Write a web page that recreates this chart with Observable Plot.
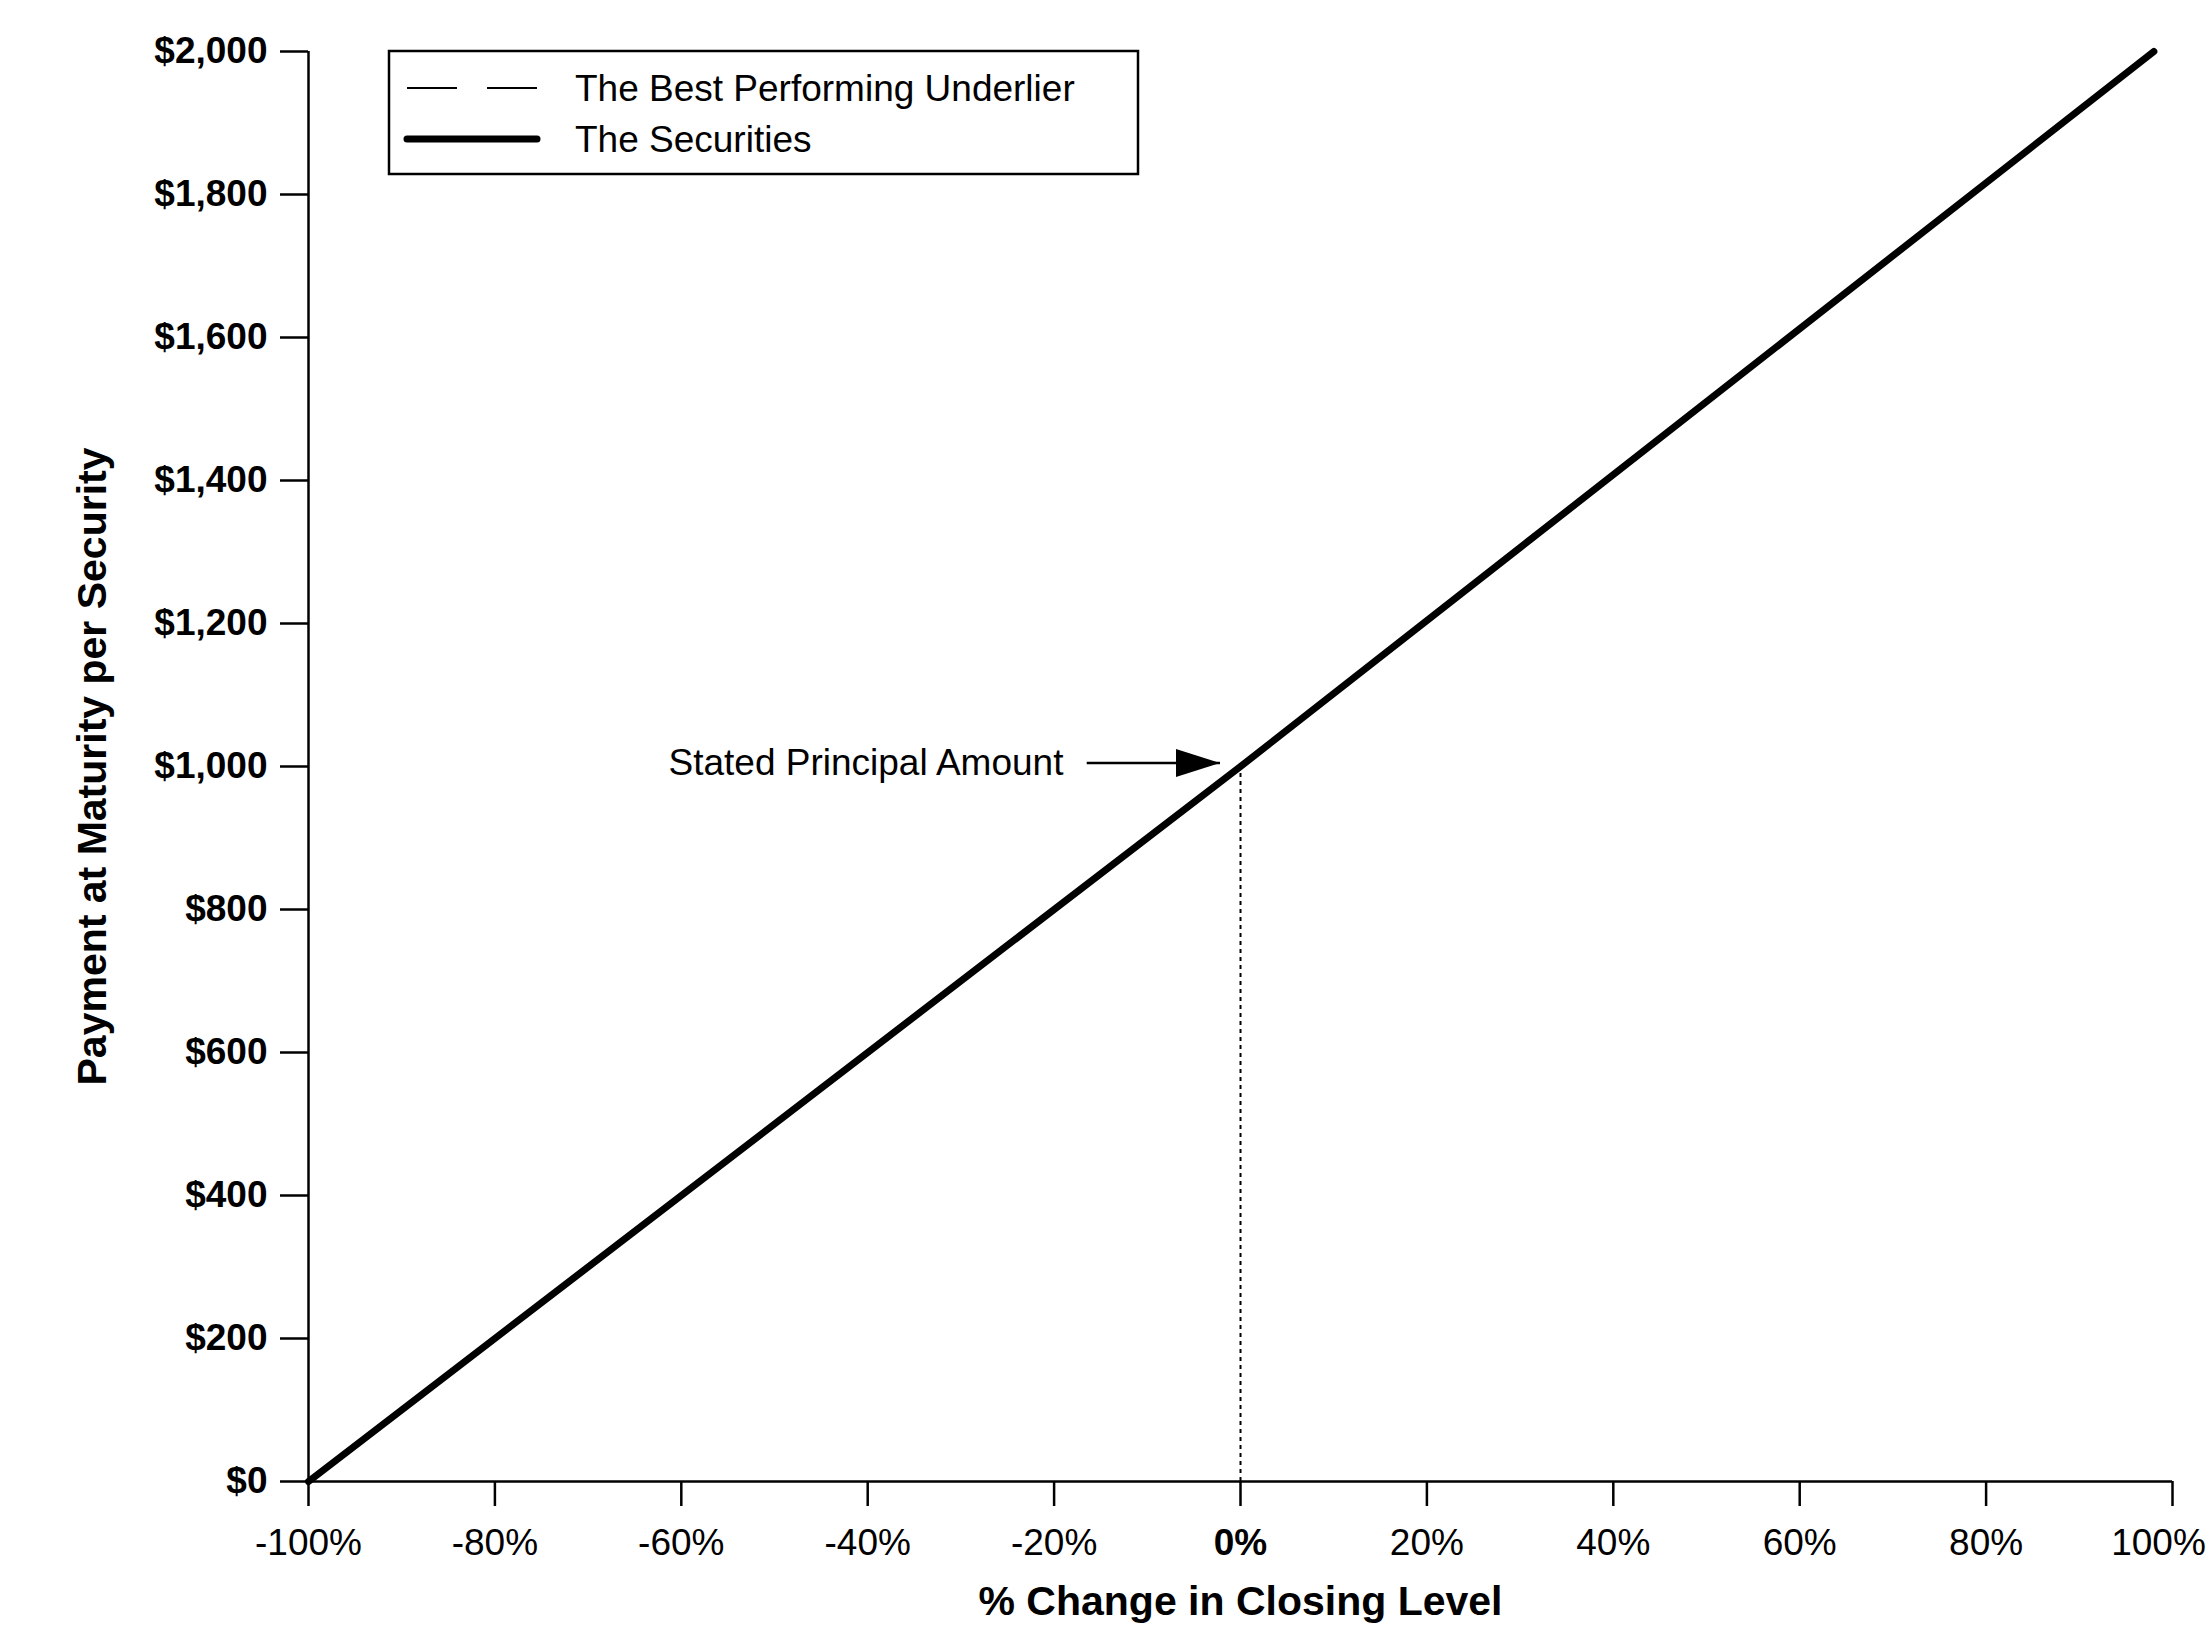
<!DOCTYPE html>
<html>
<head>
<meta charset="utf-8">
<script src="https://cdn.jsdelivr.net/npm/d3@7"></script>
<script src="https://cdn.jsdelivr.net/npm/@observablehq/plot@0.6"></script>
<style>
  html, body { margin: 0; padding: 0; background: #fff; }
  #chart { position: relative; width: 2207px; height: 1650px; }
</style>
</head>
<body>
<div id="chart"></div>
<script>
// ---- data ----
const xTicks = [-100, -80, -60, -40, -20, 0, 20, 40, 60, 80, 100];
const yTicks = [0, 200, 400, 600, 800, 1000, 1200, 1400, 1600, 1800, 2000];

const changePct = [-100, 0, 98];          // % change in closing level
const securitiesPayment = [0, 1000, 2000]; // payment per security ($)
const underlierPayment = [0, 1000, 2000];  // best performing underlier ($)

const seriesNames = ["The Best Performing Underlier", "The Securities"];

const principalPct = [0];
const principalValue = [1000];
const annotationLabel = ["Stated Principal Amount"];
const annotationLabelPct = [-19];
const arrowStartPct = [-16.5];
const arrowTipPct = [-2.2];
const arrowValue = [1005];

const xTitle = "% Change in Closing Level";
const yTitle = "Payment at Maturity per Security";

// ---- tables built from arrays ----
const securities = changePct.map((x, i) => ({x, y: securitiesPayment[i]}));
const underlier = changePct.map((x, i) => ({x, y: underlierPayment[i]}));
const principal = principalPct.map((x, i) => ({x, y: principalValue[i]}));
const annotation = annotationLabel.map((t, i) => ({
  text: t, tx: annotationLabelPct[i], x1: arrowStartPct[i], x2: arrowTipPct[i], y: arrowValue[i]
}));
const lastTick = xTicks.filter(d => d === 100).map(x => ({x, y: 0}));

const arrowHead = {
  draw(ctx) { ctx.moveTo(0, 0); ctx.lineTo(-44, -14); ctx.lineTo(-44, 14); ctx.closePath(); }
};

const font = "'Liberation Sans', Arial, Helvetica, sans-serif";
const pct = d => d + "%";
const xAxisCommon = {tickSize: 25, tickPadding: 22, fontSize: 37, strokeWidth: 2.5, tickFormat: pct, label: null};

const svg = Plot.plot({
  width: 2207,
  height: 1650,
  marginLeft: 308,
  marginRight: 35,
  marginTop: 51,
  marginBottom: 169,
  style: {fontFamily: font, background: "#fff", color: "#000", overflow: "visible"},
  x: {domain: [-100, 100]},
  y: {domain: [0, 2000]},
  marks: [
    // axes lines
    Plot.ruleX([-100], {y1: 0, y2: 2000, strokeWidth: 2.5}),
    Plot.ruleY([0], {x1: -100, x2: 100, strokeWidth: 2.5}),
    Plot.axisY({ticks: yTicks, tickSize: 28, tickPadding: 13, fontSize: 37, fontWeight: "bold",
      strokeWidth: 2.5, tickFormat: d => "$" + d3.format(",")(d), label: null}),
    Plot.axisX({...xAxisCommon, ticks: xTicks.filter(d => d !== 0 && d !== 100)}),
    Plot.axisX({...xAxisCommon, ticks: xTicks.filter(d => d === 0), fontWeight: "bold"}),
    Plot.axisX({...xAxisCommon, ticks: xTicks.filter(d => d === 100), tickFormat: () => ""}),
    Plot.text(lastTick, {x: "x", y: "y", text: d => pct(d.x), dy: 47, dx: -14,
      lineAnchor: "top", fontSize: 37}),
    // axis titles
    Plot.text([xTitle], {frameAnchor: "bottom", dy: 133, lineAnchor: "bottom", textAnchor: "middle",
      fontSize: 41, fontWeight: "bold", text: d => d}),
    Plot.text([yTitle], {frameAnchor: "left", rotate: -90, dx: -203, lineAnchor: "bottom", textAnchor: "middle",
      fontSize: 41, fontWeight: "bold", text: d => d}),
    // principal dotted line
    Plot.ruleX(principal, {x: "x", y1: 0, y2: "y", strokeDasharray: "4,4", strokeWidth: 2}),
    // series
    Plot.line(underlier, {x: "x", y: "y", strokeWidth: 2, strokeDasharray: "50,30"}),
    Plot.line(securities, {x: "x", y: "y", strokeWidth: 7, strokeLinecap: "round", strokeLinejoin: "round"}),
    // annotation
    Plot.text(annotation, {x: "tx", y: "y", text: "text", textAnchor: "end", lineAnchor: "middle", fontSize: 37}),
    Plot.link(annotation, {x1: "x1", x2: "x2", y1: "y", y2: "y", strokeWidth: 2.5}),
    Plot.dot(annotation, {x: "x2", y: "y", symbol: arrowHead, fill: "#000", stroke: null})
  ]
});

// ---- legend inside the frame ----
const lg = d3.select(svg).append("g").attr("font-family", font).attr("text-anchor", "start");
lg.append("rect").attr("x", 389).attr("y", 51).attr("width", 749).attr("height", 123)
  .attr("fill", "#fff").attr("stroke", "#000").attr("stroke-width", 2.5);
const rows = [
  {name: seriesNames[0], y: 88, dash: "50,30", w: 2},
  {name: seriesNames[1], y: 139, dash: null, w: 7}
];
rows.forEach(r => {
  lg.append("line").attr("x1", 407).attr("x2", 537).attr("y1", r.y).attr("y2", r.y)
    .attr("stroke", "#000").attr("stroke-width", r.w)
    .attr("stroke-dasharray", r.dash).attr("stroke-linecap", r.dash ? "butt" : "round");
  lg.append("text").attr("x", 575).attr("y", r.y + 13).attr("font-size", 37)
    .attr("text-anchor", "start").attr("fill", "#000").text(r.name);
});

document.getElementById("chart").appendChild(svg);
</script>
</body>
</html>
